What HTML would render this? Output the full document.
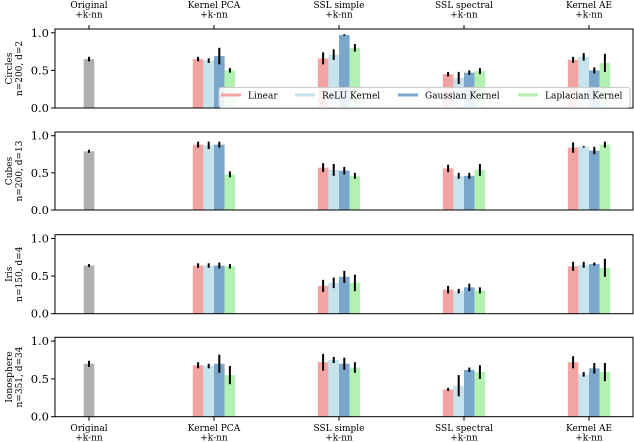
<!DOCTYPE html>
<html><head><meta charset="utf-8"><style>
html,body{margin:0;padding:0;background:#fff;}
svg{display:block;font-family:"DejaVu Serif","Liberation Serif",serif;}
</style></head><body>
<svg id="chart" width="634" height="442" viewBox="0 0 634 442" xmlns="http://www.w3.org/2000/svg"></svg>
<script>
const methods = ["Original\n+k-nn","Kernel PCA\n+k-nn","SSL simple\n+k-nn","SSL spectral\n+k-nn","Kernel AE\n+k-nn"];
const kernels = ["Linear","ReLU Kernel","Gaussian Kernel","Laplacian Kernel"];
const datasets = ["Circles","Cubes","Iris","Ionosphere"];
const datasetInfo = ["n=200,  d=2","n=200,  d=13","n=150,  d=4","n=351,  d=34"];
const yTicks = [0.0,0.5,1.0];
const originalVals = [0.65,0.79,0.64,0.70];
const originalErr = [0.03,0.02,0.02,0.04];
// values[dataset][method-1][kernel]
const circlesVals = [[0.65,0.63,0.69,0.50],[0.66,0.71,0.97,0.80],[0.45,0.40,0.47,0.49],[0.64,0.68,0.50,0.60]];
const circlesErr  = [[0.03,0.03,0.11,0.03],[0.08,0.07,0.01,0.05],[0.03,0.08,0.03,0.04],[0.04,0.05,0.04,0.12]];
const cubesVals = [[0.88,0.87,0.88,0.48],[0.57,0.54,0.53,0.46],[0.56,0.46,0.46,0.54],[0.84,0.85,0.80,0.88]];
const cubesErr  = [[0.04,0.05,0.04,0.04],[0.06,0.08,0.05,0.04],[0.05,0.04,0.04,0.08],[0.07,0.01,0.05,0.04]];
const irisVals = [[0.64,0.64,0.64,0.63],[0.37,0.41,0.49,0.41],[0.32,0.30,0.35,0.31],[0.63,0.65,0.66,0.61]];
const irisErr  = [[0.03,0.03,0.04,0.03],[0.08,0.07,0.08,0.11],[0.05,0.03,0.05,0.04],[0.06,0.04,0.02,0.12]];
const ionoVals = [[0.68,0.67,0.70,0.55],[0.72,0.75,0.70,0.65],[0.36,0.41,0.62,0.59],[0.72,0.56,0.64,0.59]];
const ionoErr  = [[0.04,0.03,0.12,0.12],[0.11,0.04,0.08,0.07],[0.02,0.14,0.03,0.09],[0.08,0.03,0.07,0.12]];
const allVals = [circlesVals,cubesVals,irisVals,ionoVals];
const allErr = [circlesErr,cubesErr,irisErr,ionoErr];

const colors = ["#f4a3a3","#c6e3ee","#7ca7cc","#b3f1b0"];
const svg = document.getElementById('chart');
const NS = "http://www.w3.org/2000/svg";
function el(tag, attrs, parent){const e=document.createElementNS(NS,tag);for(const k in attrs)e.setAttribute(k,attrs[k]);(parent||svg).appendChild(e);return e;}

const axL=55, axR=633;
const panels=[{top:29,bottom:108},{top:132,bottom:210},{top:234.7,bottom:313.7},{top:337.3,bottom:416.7}];
const yMax=1.05;
const groupX = i => 89 + 125*i;
const barW = 10.6;

panels.forEach((p,d)=>{
  const g = el('g',{});
  
  
  const y = v => p.bottom - v/yMax*(p.bottom-p.top);
  // original bar
  const ob = el('rect',{x:groupX(0)-barW/2,y:y(originalVals[d]),width:barW,height:p.bottom-y(originalVals[d]),fill:"#b0b0b0"},g);
  
  
  el('line',{x1:groupX(0),x2:groupX(0),y1:y(originalVals[d]-originalErr[d]),y2:y(originalVals[d]+originalErr[d]),stroke:"#000","stroke-width":2},g);
  for(let m=0;m<4;m++){
    for(let k=0;k<4;k++){
      const v=allVals[d][m][k], e=allErr[d][m][k];
      const cx=groupX(m+1)+(k-1.5)*barW;
      const b=el('rect',{x:cx-barW/2,y:y(v),width:barW,height:p.bottom-y(v),fill:colors[k]},g);
      
      
      el('line',{x1:cx,x2:cx,y1:y(Math.max(0,v-e)),y2:y(v+e),stroke:"#000","stroke-width":2},g);
    }
  }
  // frame
  el('rect',{x:axL,y:p.top,width:axR-axL,height:p.bottom-p.top,fill:"none",stroke:"#000","stroke-width":1},g);
  yTicks.forEach(t=>{
    el('line',{x1:axL-4,x2:axL,y1:y(t),y2:y(t),stroke:"#000"},g);
    const tx=el('text',{x:axL-6,y:y(t)+4,"text-anchor":"end","font-size":11.5,fill:"#000"},g);
    tx.textContent=t.toFixed(1);
    
    
  });
  const cy=(p.top+p.bottom)/2;
  const l1=el('text',{x:0,y:0,transform:`translate(12,${cy}) rotate(-90)`,"text-anchor":"middle","font-size":9},g);
  l1.textContent=datasets[d];
  
  
  const l2=el('text',{x:0,y:0,transform:`translate(22,${cy}) rotate(-90)`,"text-anchor":"middle","font-size":9},g);
  l2.textContent=datasetInfo[d];
  
  
});

// top & bottom method labels
methods.forEach((m,i)=>{
  const x=groupX(i);
  const parts=m.split('\n');
  el('line',{x1:x,x2:x,y1:25,y2:29,stroke:"#000"});
  el('line',{x1:x,x2:x,y1:416.7,y2:420.7,stroke:"#000"});
  [[8,0],[17.5,1],[431,0],[440.5,1]].forEach(([yy,pi])=>{
    const t=el('text',{x:x,y:yy,"text-anchor":"middle","font-size":9});
    t.textContent=parts[pi];
    
    
  });
});

// legend
const lg=el('g',{});


el('rect',{x:219,y:87.5,width:411,height:20,fill:"#fff","fill-opacity":0.85,stroke:"#ccc","stroke-width":1,rx:2},lg);
const legX=[221,295,398,518];
kernels.forEach((k,i)=>{
  el('line',{x1:legX[i],x2:legX[i]+20,y1:95,y2:95,stroke:colors[i],"stroke-width":3},lg);
  const t=el('text',{x:legX[i]+27,y:98.5,"font-size":9},lg);
  t.textContent=k;
  
  
});
</script>
</body></html>
